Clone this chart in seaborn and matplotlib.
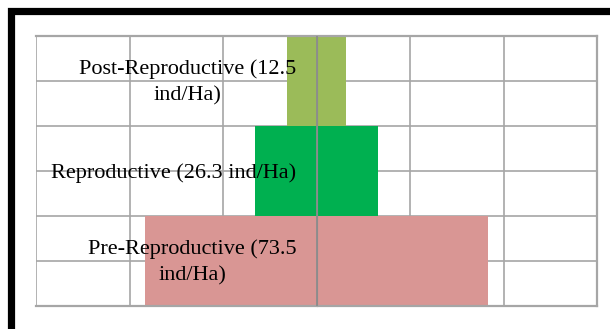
import matplotlib.pyplot as plt
import matplotlib.patches as mpatches
import pandas as pd
import seaborn as sns

# data (ind/Ha), mirrored on both sides of the axis
stages = ["Post-Reproductive", "Reproductive", "Pre-Reproductive"]
density = [12.5, 26.3, 73.5]
labels = ["Post-Reproductive (12.5\nind/Ha)",
          "Reproductive (26.3 ind/Ha)",
          "Pre-Reproductive (73.5\nind/Ha)"]
colors = ["#9BBB59", "#00B050", "#D99694"]

sns.set_style("white")
plt.rcParams["font.family"] = ["Liberation Serif", "DejaVu Serif"]

df = pd.DataFrame({"stage": stages, "density": density})
df_left = df.assign(density=-df["density"])

fig = plt.figure(figsize=(6.1, 3.29), dpi=100)
W, H = 610, 329
ax = fig.add_axes([36 / W, 1 - 306 / H, (597 - 36) / W, (306 - 36) / H])

palette = dict(zip(stages, colors))
for part in (df_left, df):
    sns.barplot(data=part, x="density", y="stage", hue="stage", order=stages,
                palette=palette, width=1.0, orient="h", legend=False,
                saturation=1, linewidth=0, ax=ax, zorder=2)

grid_c = "#A6A6A6"
ax.set_xlim(-120, 120)
ax.set_ylim(2.5, -0.5)
ax.set_xticks(range(-120, 121, 40))
ax.set_xticklabels([])
for x in range(-120, 121, 40):
    ax.axvline(x, color=grid_c, lw=1.2, zorder=0)
for y in [-0.5, 0, 0.5, 1, 1.5, 2, 2.5]:
    ax.axhline(y, color=grid_c, lw=1.2, zorder=0)

# centre axis with small ticks at category boundaries
ax.axvline(0, color="#8C8C8C", lw=1.3, zorder=3)
ax.set_yticks([-0.5, 0.5, 1.5, 2.5])
ax.set_yticklabels([])
ax.spines["left"].set_position(("data", 0))
ax.spines["left"].set_color("#8C8C8C")
ax.tick_params(axis="y", length=6, width=1.2, color="#8C8C8C", direction="out")
ax.tick_params(axis="x", length=0)
ax.set_xlabel("")
ax.set_ylabel("")
for s in ["top", "right", "bottom"]:
    ax.spines[s].set_color(grid_c)
    ax.spines[s].set_linewidth(1.6)

for i, lab in enumerate(labels):
    ax.text(-8.6, i + 0.02, lab, ha="right", va="center", multialignment="center",
            fontsize=16, color="black", zorder=4, linespacing=1.5)

# outer black frame of the figure (partly cropped)
frame = mpatches.Rectangle((10.5 / W, 1 - 331.5 / H), (640 - 10.5) / W, (331.5 - 11) / H,
                           transform=fig.transFigure, fill=False, edgecolor="black",
                           linewidth=5.2, clip_on=False)
fig.patches.append(frame)

fig.savefig("out.png", dpi=100)
